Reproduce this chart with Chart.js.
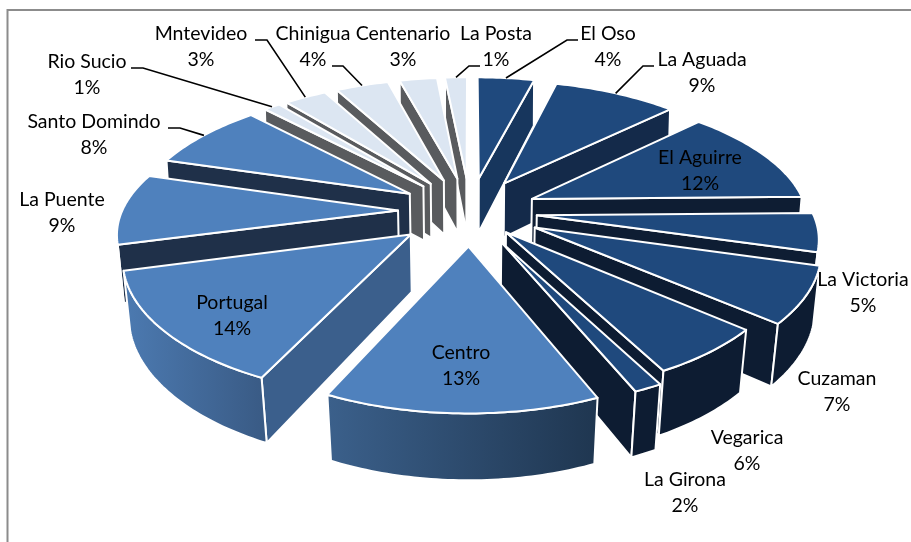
<!DOCTYPE html>
<html><head><meta charset="utf-8">
<script src="https://cdn.jsdelivr.net/npm/chart.js@4"></script>
<style>html,body{margin:0;padding:0;background:#fff}#w{position:relative;width:911px;height:542px;overflow:hidden}</style>
</head><body><div id="w"><canvas id="c" width="911" height="542"></canvas></div>
<script>
const categories = ["El Oso","La Aguada","El Aguirre","La Victoria","Cuzaman","Vegarica","La Girona","Centro","Portugal","La Puente","Santo Domindo","Rio Sucio","Mntevideo","Chinigua","Centenario","La Posta"];
const percents = [4,9,12,5,7,6,2,13,14,9,8,1,3,4,3,1];
const shares = [4.06,8.75,11.92,4.72,6.81,5.97,1.39,13.39,13.83,8.75,8.19,1.17,3.0,3.78,2.69,1.58];
const explode = [72,70,68,67,72,56,70,72,75,72,72,72,72,72,72,72];
const topColors = ["#1F497D","#1F497D","#1F497D","#1F497D","#1F497D","#1F497D","#1F497D","#4F81BD","#4F81BD","#4F81BD","#4F81BD","#DCE6F2","#DCE6F2","#DCE6F2","#DCE6F2","#DCE6F2"];
const sideColors = ["#17365D","#142A4A","#0E1D33","#0E1D33","#0D1C32","#0D1C32","#0D1C32","#3B5F8C","#3B5F8C","#1F3049","#1F3049","#595B5E","#595B5E","#595B5E","#595B5E","#595B5E"];
const rimLeft  = ["#17365D","#142A4A","#0E1D33","#0E1D33","#0D1C32","#0D1C32","#0D1C32","#3B608B","#4C7AB1","#1F3049","#1F3049","#595B5E","#595B5E","#595B5E","#595B5E","#595B5E"];
const rimRight = ["#17365D","#142A4A","#0E1D33","#0E1D33","#0D1C32","#0D1C32","#0D1C32","#1F3650","#395A84","#1F3049","#1F3049","#595B5E","#595B5E","#595B5E","#595B5E","#595B5E"];
// label centres: [x, y of name line]
const labelAt = [[608,34],[702,60],[700,158],[863,280],[837,379],[747,438],[685,480],[461,353],[232,303],[62,200],[94,122],[87,62],[201,34],[313,34],[403,34],[496,34]];
// leader elbows: slice index -> [text end x, elbow x, y]
const leaders = {0:[578,567,40],1:[654,643,66],10:[168,180,128],11:[131,143,68],12:[255,267,40],13:[332,343,66],15:[480,469,66]};

const view = {cx:470, cy:211, k:0.474, p:0.0006};
function project(X,Y,low){
  const s = 1/(1-view.p*Y);
  const w = 1+0.009*Math.pow(X/268,4);
  if(!low) return [view.cx+X*s*w, view.cy+view.k*Y*s];
  return [view.cx+X*s*w*(0.985-0.000033*Y), view.cy+view.k*Y*s+56+0.032*Y];
}
function geom(arc){
  const mid=(arc.startAngle+arc.endAngle)/2, off=arc.options.offset||0;
  const ax=Math.cos(mid)*off, ay=Math.sin(mid)*off, R=arc.outerRadius;
  const rim=t=>[ax+R*Math.cos(t), ay+R*Math.sin(t)];
  return {mid,ax,ay,R,rim};
}
function area(q){let a=0;for(let i=0;i<q.length;i++){const u=q[i],v=q[(i+1)%q.length];a+=u[0]*v[1]-v[0]*u[1];}return a;}
function poly(ctx,pts){ctx.beginPath();pts.forEach((p,i)=>i?ctx.lineTo(p[0],p[1]):ctx.moveTo(p[0],p[1]));ctx.closePath();}

const pie3d = {
  id:'pie3d',
  beforeDatasetsDraw(chart){
    const ctx=chart.ctx, arcs=chart.getDatasetMeta(0).data;
    ctx.save();
    ctx.fillStyle='#fff';ctx.fillRect(0,0,911,542);
    ctx.strokeStyle='#8C8C8C';ctx.lineWidth=2;
    ctx.beginPath();ctx.moveTo(7.5,544);ctx.lineTo(7.5,10);ctx.lineTo(913,10);ctx.stroke();
    ctx.lineJoin='round';
    const order=arcs.map((a,i)=>i).sort((i,j)=>{
      const gi=geom(arcs[i]),gj=geom(arcs[j]);
      return (gi.ay+gi.R*0.66*Math.sin(gi.mid))-(gj.ay+gj.R*0.66*Math.sin(gj.mid));
    });
    order.forEach(i=>{
      const arc=arcs[i], g=geom(arc), a0=arc.startAngle, a1=arc.endAngle;
      const apex=[g.ax,g.ay], n=Math.max(6,Math.ceil((a1-a0)/(Math.PI/180)));
      const pts=[];for(let j=0;j<=n;j++)pts.push(g.rim(a0+(a1-a0)*j/n));
      const T=p=>project(p[0],p[1],false),B=p=>project(p[0],p[1],true);
      const edge=(u,v)=>[T(u),T(v),B(v),B(u)];
      ctx.strokeStyle='#fff';ctx.lineWidth=2;
      [[apex,pts[0]],[pts[n],apex]].forEach(([u,v])=>{
        const q=edge(u,v);
        if(area(q)<0){ctx.fillStyle=sideColors[i];poly(ctx,q);ctx.fill();ctx.stroke();}
      });
      let run=[];
      for(let j=0;j<n;j++){
        if(area(edge(pts[j],pts[j+1]))<0){ if(!run.length)run.push(pts[j]); run.push(pts[j+1]); }
      }
      if(run.length>1){
        const top=run.map(T), bot=run.map(B).reverse(), q=top.concat(bot);
        const xs=q.map(p=>p[0]);
        const gr=ctx.createLinearGradient(Math.min(...xs),0,Math.max(...xs),0);
        gr.addColorStop(0,rimLeft[i]);gr.addColorStop(1,rimRight[i]);
        ctx.fillStyle=gr;poly(ctx,q);ctx.fill();ctx.stroke();
      }
      ctx.fillStyle=arc.options.backgroundColor;
      poly(ctx,[T(apex)].concat(pts.map(T)));ctx.fill();ctx.stroke();
    });
    // leaders
    ctx.strokeStyle='#000';ctx.lineWidth=1.6;ctx.lineJoin='miter';
    Object.keys(leaders).forEach(k=>{
      const g=geom(arcs[k]), end=project(...g.rim(g.mid)), l=leaders[k];
      ctx.beginPath();ctx.moveTo(l[0],l[2]);ctx.lineTo(l[1],l[2]);ctx.lineTo(end[0],end[1]);ctx.stroke();
    });
    // labels
    ctx.fillStyle='#000';ctx.font='19.5px Lato';ctx.textAlign='center';ctx.textBaseline='middle';
    categories.forEach((name,i)=>{
      ctx.fillText(name,labelAt[i][0],labelAt[i][1]);
      ctx.fillText(percents[i]+'%',labelAt[i][0],labelAt[i][1]+26);
    });
    ctx.restore();
    return false;
  }
};
new Chart(document.getElementById('c'),{
  type:'pie',
  data:{labels:categories,datasets:[{data:shares,backgroundColor:topColors,offset:explode,borderColor:'#fff',borderWidth:2,radius:268}]},
  options:{responsive:false,animation:false,layout:{padding:0},plugins:{legend:{display:false},tooltip:{enabled:false}}},
  plugins:[pie3d]
});
</script></body></html>
